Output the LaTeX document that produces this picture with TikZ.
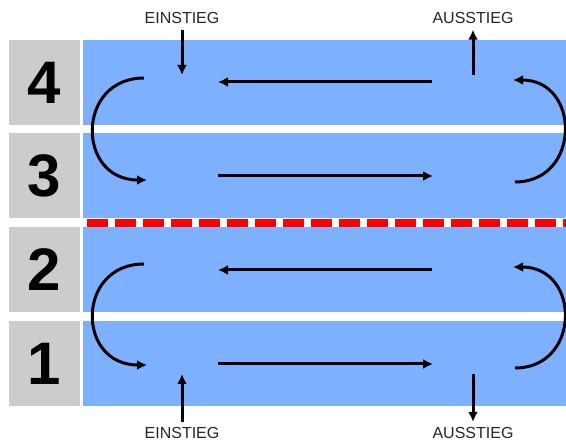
\documentclass[tikz,border=0pt]{standalone}
\usepackage{fontspec}
\setmainfont{Liberation Sans}
\usetikzlibrary{positioning,arrows.meta}
\definecolor{laneblue}{RGB}{125,176,255}
\definecolor{boxgray}{RGB}{204,204,204}
\tikzset{
  numbox/.style={rectangle, fill=boxgray, minimum width=71pt, minimum height=85pt, inner sep=0pt, outer sep=0pt,
                 font=\fontsize{60}{60}\selectfont\bfseries},
  lane/.style={rectangle, fill=laneblue, minimum width=483pt, minimum height=85pt, inner sep=0pt, outer sep=0pt},
  door/.style={inner sep=0pt, outer sep=6pt, font=\fontsize{16}{16}\selectfont, text=black!85},
  flow/.style={-{Latex[length=10pt,width=10pt]}, line width=3pt},
  divider/.style={red, line width=8pt, dash pattern=on 21pt off 7pt},
}

\begin{document}
\begin{tikzpicture}[x=1pt, y=-1pt]
  \useasboundingbox (0,0) rectangle (566,441);

  % number boxes and lanes
  \node[numbox, anchor=north west] (num4) at (9,40) {4};
  \node[numbox] (num3) [below=8pt of num4] {3};
  \node[numbox] (num2) [below=9pt of num3] {2};
  \node[numbox] (num1) [below=9pt of num2] {1};
  \node[lane] (lane4) [right=3pt of num4] {};
  \node[lane] (lane3) [right=3pt of num3] {};
  \node[lane] (lane2) [right=3pt of num2] {};
  \node[lane] (lane1) [right=3pt of num1] {};

  % red divider between 3 and 2
  \coordinate (divL) at (87,223);
  \coordinate (divR) at (566,223);
  \draw[divider] (divL) -- (divR);

  % labels
  \node[door] (ein4) at (182,18) {EINSTIEG};
  \node[door] (aus4) at (473,18) {AUSSTIEG};
  \node[door, outer sep=5pt] (ein1) at (182,432.5) {EINSTIEG};
  \node[door, outer sep=5pt] (aus1) at (473,432.5) {AUSSTIEG};

  \coordinate (ein4in) at (182,75);
  \coordinate (aus4out) at (473,75);
  \coordinate (ein1in) at (182,374);
  \coordinate (aus1out) at (473,374);
  \draw[flow] (ein4.south) -- (ein4in);
  \draw[flow] (aus4out) -- (aus4.south);
  \draw[flow] (ein1.north) -- (ein1in);
  \draw[flow] (aus1out) -- (aus1.north);

  % straight runs
  \coordinate (r4a) at (432,82);  \coordinate (r4b) at (218,82);
  \coordinate (r3a) at (218,176); \coordinate (r3b) at (433,176);
  \coordinate (r2a) at (432,270); \coordinate (r2b) at (218,270);
  \coordinate (r1a) at (218,364); \coordinate (r1b) at (433,364);
  \draw[flow] (r4a) -- (r4b);
  \draw[flow] (r3a) -- (r3b);
  \draw[flow] (r2a) -- (r2b);
  \draw[flow] (r1a) -- (r1b);

  % turns
  \coordinate (t43a) at (144,78);  \coordinate (t43b) at (147,180);
  \coordinate (t34a) at (515,182); \coordinate (t34b) at (513,80);
  \coordinate (t21a) at (144,264); \coordinate (t21b) at (147,365);
  \coordinate (t12a) at (515,368); \coordinate (t12b) at (513,267);
  \draw[flow] (t43a) .. controls (76,78) and (76,180) .. (t43b);
  \draw[flow] (t34a) .. controls (581,182) and (581,80) .. (t34b);
  \draw[flow] (t21a) .. controls (76,264) and (76,365) .. (t21b);
  \draw[flow] (t12a) .. controls (581,368) and (581,267) .. (t12b);
\end{tikzpicture}
\end{document}
